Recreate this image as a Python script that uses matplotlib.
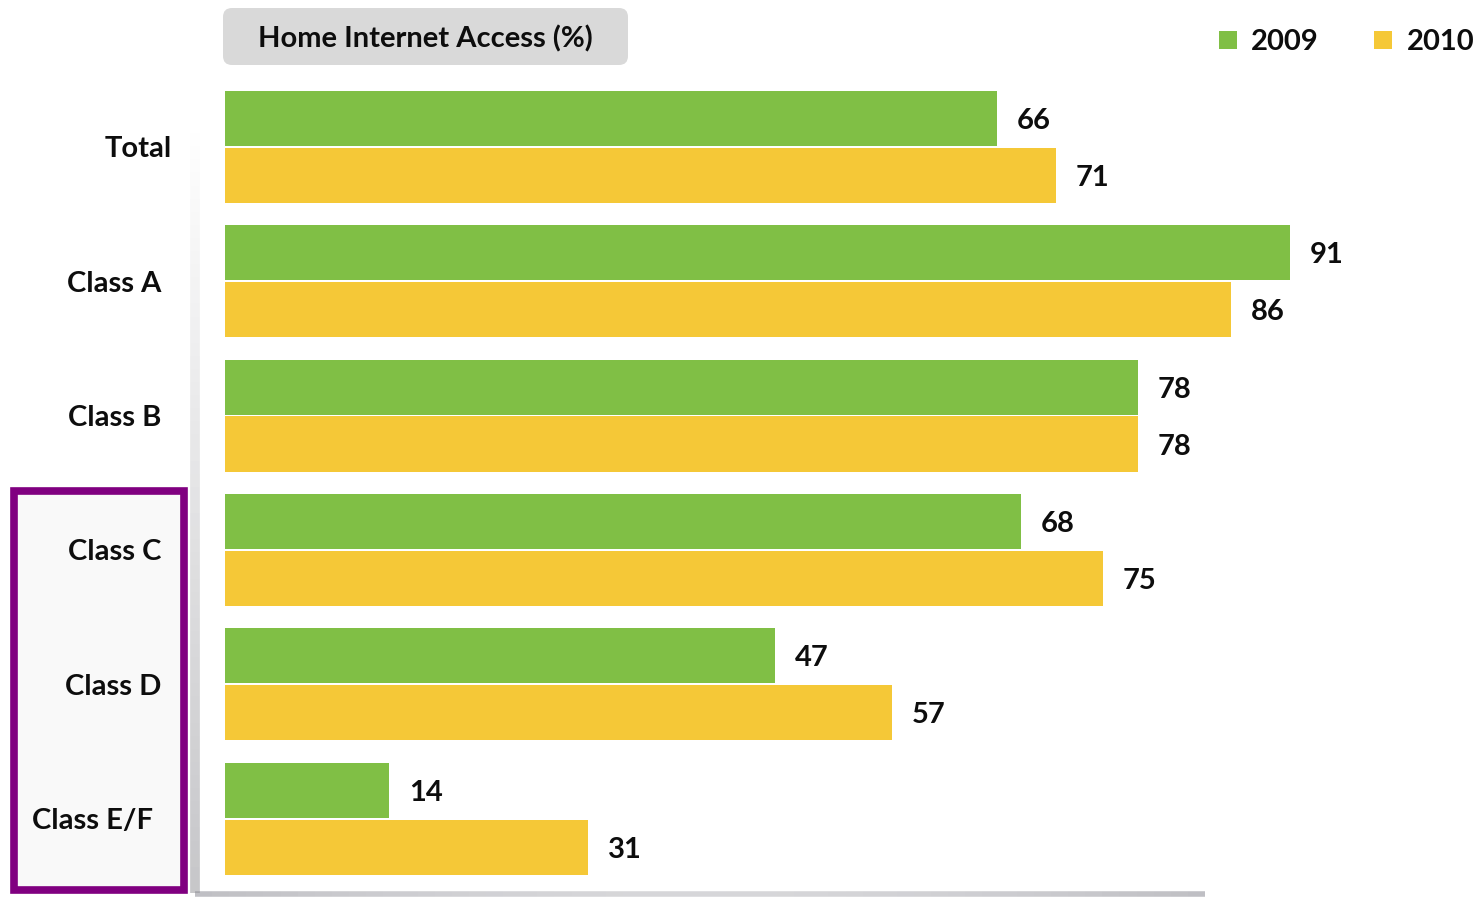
import numpy as np
import matplotlib.pyplot as plt
from matplotlib.patches import FancyBboxPatch, Rectangle
from matplotlib.collections import LineCollection

categories = ["Total", "Class A", "Class B", "Class C", "Class D", "Class E/F"]
access_2009 = [66, 91, 78, 68, 47, 14]
access_2010 = [71, 86, 78, 75, 57, 31]
years = ["2009", "2010"]

GREEN = "#80bf45"
YELLOW = "#f5c837"
INK = "#0d0d0d"
W, H = 1476, 897

plt.rcParams["font.family"] = ["Lato", "DejaVu Sans"]
plt.rcParams["font.weight"] = "bold"

fig = plt.figure(figsize=(W / 100, H / 100), dpi=100)
fig.patch.set_facecolor("white")

# bar area: starts at x=225px, ~11.7px per percent, groups 134.4px apart
ax = fig.add_axes([225 / W, 0, 1 - 225 / W, 1])
ax.set_xlim(0, (W - 225) / 11.7)
ax.set_ylim((H - 146.75) / 134.4, -146.75 / 134.4)
ax.axis("off")

y = np.arange(len(categories))
h = 0.41
off = 0.212
ax.barh(y - off, access_2009, height=h, color=GREEN)
ax.barh(y + off, access_2010, height=h, color=YELLOW)

for yi, v in zip(y - off, access_2009):
    ax.text(v + 1.7, yi, str(v), va="center_baseline", ha="left", fontsize=21,
            fontweight="bold", color=INK)
for yi, v in zip(y + off, access_2010):
    ax.text(v + 1.7, yi, str(v), va="center_baseline", ha="left", fontsize=21,
            fontweight="bold", color=INK)

# category labels, right aligned left of the bars
label_right = [172, 161, 161, 161, 161, 153]
for yi, name, xr in zip(y, categories, label_right):
    fig.text(xr / W, 1 - (146.75 + 134.4 * yi) / H, name, ha="right", va="center_baseline",
             fontsize=21, fontweight="bold", color=INK, zorder=5)

# overlay axes in pixel units for the decorations
deco = fig.add_axes([0, 0, 1, 1], zorder=-1)
deco.set_xlim(0, W)
deco.set_ylim(H, 0)
deco.axis("off")

# soft grey frame on the left and bottom of the plot area
n = 60
ys = np.linspace(120, 893, n)
segs = [[(195, ys[i]), (195, ys[i + 1])] for i in range(n - 1)]
alphas = np.linspace(0.0, 0.55, n - 1)
deco.add_collection(LineCollection(segs, colors=[(0.6, 0.6, 0.62, a) for a in alphas], linewidths=7))
xs = np.linspace(195, 1205, n)
segs = [[(xs[i], 894), (xs[i + 1], 894)] for i in range(n - 1)]
alphas = 0.55 - 0.2 * np.sin(np.linspace(0, np.pi, n - 1))
deco.add_collection(LineCollection(segs, colors=[(0.55, 0.55, 0.58, a) for a in alphas], linewidths=4))

# highlighted lower classes
deco.add_patch(Rectangle((14, 491), 170, 399, facecolor="#f9f9f9", edgecolor="#800080", linewidth=5.5))

# title box
title_box = FancyBboxPatch((223, 8), 405, 57, boxstyle="round,pad=0,rounding_size=9",
                           facecolor="#d9d9d9", edgecolor="none")
fig.add_artist(title_box)
title_box.set_transform(deco.transData)
fig.text(425 / W, 1 - 36 / H, "Home Internet Access (%)", ha="center", va="center_baseline",
         fontsize=21, fontweight="bold", color=INK)

# legend
for (sx, tx), yr, col in zip([(1219, 1251), (1374, 1407)], years, [GREEN, YELLOW]):
    sq = Rectangle((sx, 31), 18, 18, facecolor=col, edgecolor="none", transform=deco.transData)
    fig.add_artist(sq)
    fig.text(tx / W, 1 - 40 / H, yr, ha="left", va="center_baseline", fontsize=21,
             fontweight="bold", color=INK)

fig.savefig("out.png", dpi=100, facecolor="white")
